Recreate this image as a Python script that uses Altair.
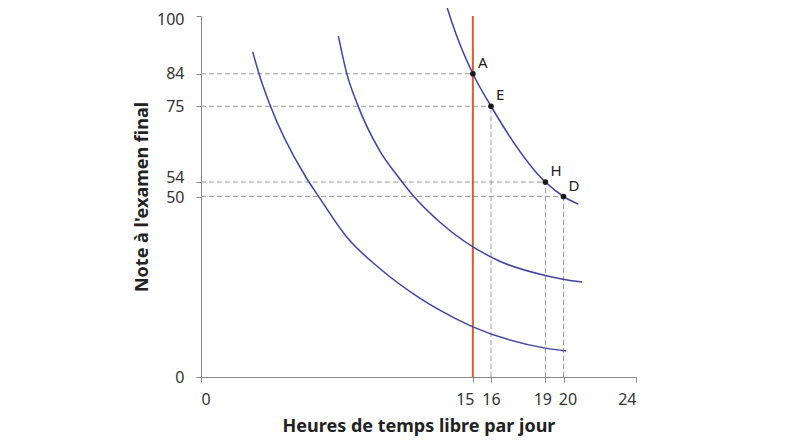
import altair as alt
import pandas as pd

# Indifference curves (free hours per day, final exam grade)
low_x = [2.85, 3.20, 3.77, 5.78, 6.45, 8.05, 9.88, 12.09, 13.0, 15.0, 19.0, 20.15]
low_y = [90.1, 84.0, 75.8, 55.4, 50.3, 38.7, 30.0, 21.8, 19.0, 13.9, 8.0, 7.2]
mid_x = [7.58, 8.05, 8.61, 9.88, 10.89, 11.71, 13.20, 16.42, 19.0, 20.04, 21.02]
mid_y = [94.4, 83.9, 75.8, 62.5, 55.4, 50.2, 42.8, 32.2, 28.1, 27.0, 26.3]
top_x = [13.57, 13.84, 15, 16, 19, 20, 20.82]
top_y = [102.5, 98.3, 84, 75, 54, 50, 47.9]

pt_labels = ["A", "E", "H", "D"]
pt_x = [15, 16, 19, 20]
pt_y = [84, 75, 54, 50]

constraint_x = 15
x_ticks = [0, 15, 16, 19, 20, 24]
y_ticks = [0, 50, 54, 75, 84, 100]

curves = pd.concat([
    pd.DataFrame({"curve": "c1", "x": low_x, "y": low_y, "o": range(len(low_x))}),
    pd.DataFrame({"curve": "c2", "x": mid_x, "y": mid_y, "o": range(len(mid_x))}),
    pd.DataFrame({"curve": "c3", "x": top_x, "y": top_y, "o": range(len(top_x))}),
])
pts = pd.DataFrame({"label": pt_labels, "x": pt_x, "y": pt_y, "zero": 0})
vert = pts[pts["label"] != "A"]
red = pd.DataFrame({"x": [constraint_x], "y": [0], "y2": [100]})

FONT = "Noto Sans"
xs = alt.Scale(domain=[0, 24], nice=False)
ys = alt.Scale(domain=[0, 100], nice=False)

xaxis = alt.Axis(values=x_ticks, title="Heures de temps libre par jour", grid=False,
                 labelFontSize=16, titleFontSize=18, titleFontWeight="bold",
                 labelPadding=9, titlePadding=10, tickSize=5, labelOverlap=False,
                 labelOffset={"condition": [
                     {"test": "datum.value == 15", "value": -8},
                     {"test": "datum.value == 19", "value": -3},
                     {"test": "datum.value == 20", "value": 4}],
                     "value": 0},
                 domainColor="#888888", tickColor="#888888", labelColor="#333333",
                 titleColor="#222222", labelFont=FONT, titleFont=FONT)
yaxis = alt.Axis(values=y_ticks, title="Note à l'examen final", grid=False,
                 labelFontSize=16, titleFontSize=18, titleFontWeight="bold",
                 labelPadding=12, titlePadding=5, tickSize=5, labelOverlap=False,
                 labelOffset={"condition": [
                     {"test": "datum.value == 100", "value": 3},
                     {"test": "datum.value == 54", "value": -5},
                     {"test": "datum.value == 50", "value": 1}],
                     "value": 0},
                 domainColor="#888888", tickColor="#888888", labelColor="#333333",
                 titleColor="#222222", labelFont=FONT, titleFont=FONT)

base_axes = alt.Chart(pts).mark_point(opacity=0).encode(
    x=alt.X("x:Q", scale=xs, axis=xaxis),
    y=alt.Y("y:Q", scale=ys, axis=yaxis),
)

hdash = alt.Chart(pts).mark_rule(color="#999999", strokeWidth=1, strokeDash=[5, 3]).encode(
    x=alt.X("zero:Q", scale=xs), x2="x:Q", y=alt.Y("y:Q", scale=ys))
vdash = alt.Chart(vert).mark_rule(color="#999999", strokeWidth=1, strokeDash=[5, 3]).encode(
    x=alt.X("x:Q", scale=xs), y=alt.Y("zero:Q", scale=ys), y2="y:Q")

redline = alt.Chart(red).mark_rule(color="#e05a2c", strokeWidth=2).encode(
    x=alt.X("x:Q", scale=xs), y=alt.Y("y:Q", scale=ys), y2="y2:Q")

lines = alt.Chart(curves).mark_line(color="#3c44a6", strokeWidth=1.5, interpolate="monotone").encode(
    x=alt.X("x:Q", scale=xs), y=alt.Y("y:Q", scale=ys), detail="curve:N", order="o:Q")

dots = alt.Chart(pts).mark_circle(color="#1a1a1a", opacity=1, size=32).encode(
    x=alt.X("x:Q", scale=xs), y=alt.Y("y:Q", scale=ys))

labels = alt.Chart(pts).mark_text(align="left", baseline="middle", dx=5, dy=-11,
                                  fontSize=15, font=FONT, color="#222222").encode(
    x=alt.X("x:Q", scale=xs), y=alt.Y("y:Q", scale=ys), text="label:N")

chart = alt.layer(base_axes, hdash, vdash, redline, lines, dots, labels).properties(
    width=435, height=361,
    autosize=alt.AutoSizeParams(type="none"),
    padding={"left": 193, "top": 8, "right": 160, "bottom": 59},
).configure_view(stroke=None)

chart.save("out.html", embed_options={"renderer": "svg", "actions": False})
